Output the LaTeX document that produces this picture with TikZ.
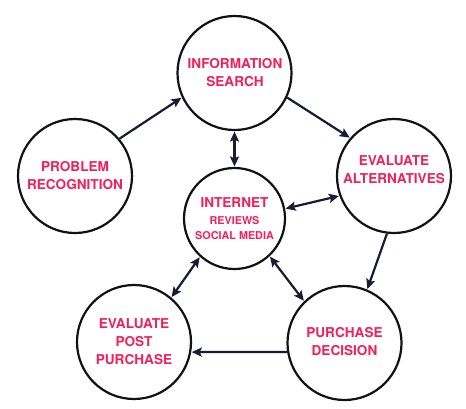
\documentclass[tikz,border=0pt]{standalone}
\usepackage{fontspec}
\setmainfont{TeX Gyre Heros}
\usetikzlibrary{arrows.meta}
\definecolor{txtred}{RGB}{242,32,88}
\definecolor{navy}{RGB}{24,27,52}
\definecolor{ring}{RGB}{18,18,22}
\tikzset{
  stage/.style={circle,draw=ring,line width=2.2pt,minimum size=114pt,inner sep=0pt},
  hub/.style={circle,draw=ring,line width=2.2pt,minimum size=101pt,inner sep=0pt},
  lbl/.style={text=txtred,align=center,font=\bfseries\fontsize{13.6}{18}\selectfont,inner sep=0pt},
  tip/.style={Stealth[length=10pt,width=9pt,inset=2pt]},
  flow/.style={draw=navy,line width=2.2pt,-{Stealth[length=10pt,width=9pt,inset=2pt]},shorten >=0.5pt,shorten <=0pt},
  both/.style={draw=navy,line width=2.2pt,{Stealth[length=10pt,width=9pt,inset=2pt]}-{Stealth[length=10pt,width=9pt,inset=2pt]},shorten >=0.5pt,shorten <=0.5pt}
}
\begin{document}
\begin{tikzpicture}[x=1pt,y=-1pt]
\useasboundingbox (0,0) rectangle (466,408);
\node[stage] (info) at (234.5,73) {};
\node[stage] (prob) at (75,176) {};
\node[stage] (alt) at (394,176) {};
\node[hub] (net) at (234.5,218.5) {};
\node[stage] (post) at (134,342) {};
\node[stage] (dec) at (344.5,343) {};

\node[lbl] (infoT) at (235,73) {INFORMATION\\SEARCH};
\node[lbl] (probT) at (75,176) {PROBLEM\\RECOGNITION};
\node[lbl] (altT) at (394,170) {EVALUATE\\ALTERNATIVES};
\node[lbl] (postT) at (134,342) {EVALUATE\\POST\\PURCHASE};
\node[lbl] (decT) at (344.5,342) {PURCHASE\\DECISION};
\node[lbl,font=\bfseries\fontsize{13.6}{16}\selectfont] (netT1) at (234.5,203) {INTERNET};
\node[lbl,font=\bfseries\fontsize{10.8}{15}\selectfont] (netT2) at (234.5,228) {REVIEWS\\SOCIAL MEDIA};

\draw[flow] (prob.40) -- (info.205);
\draw[flow] (info.335) -- (alt.139);
\draw[flow] (alt.263) -- (dec.67);
\draw[flow] (dec.189) -- (post.350);
\draw[both] (info.270) -- (net.90);
\draw[both] (net.11) -- (alt.200);
\draw[both] (net.313) -- (dec.134);
\draw[both] (net.228) -- (post.50);
\end{tikzpicture}
\end{document}
